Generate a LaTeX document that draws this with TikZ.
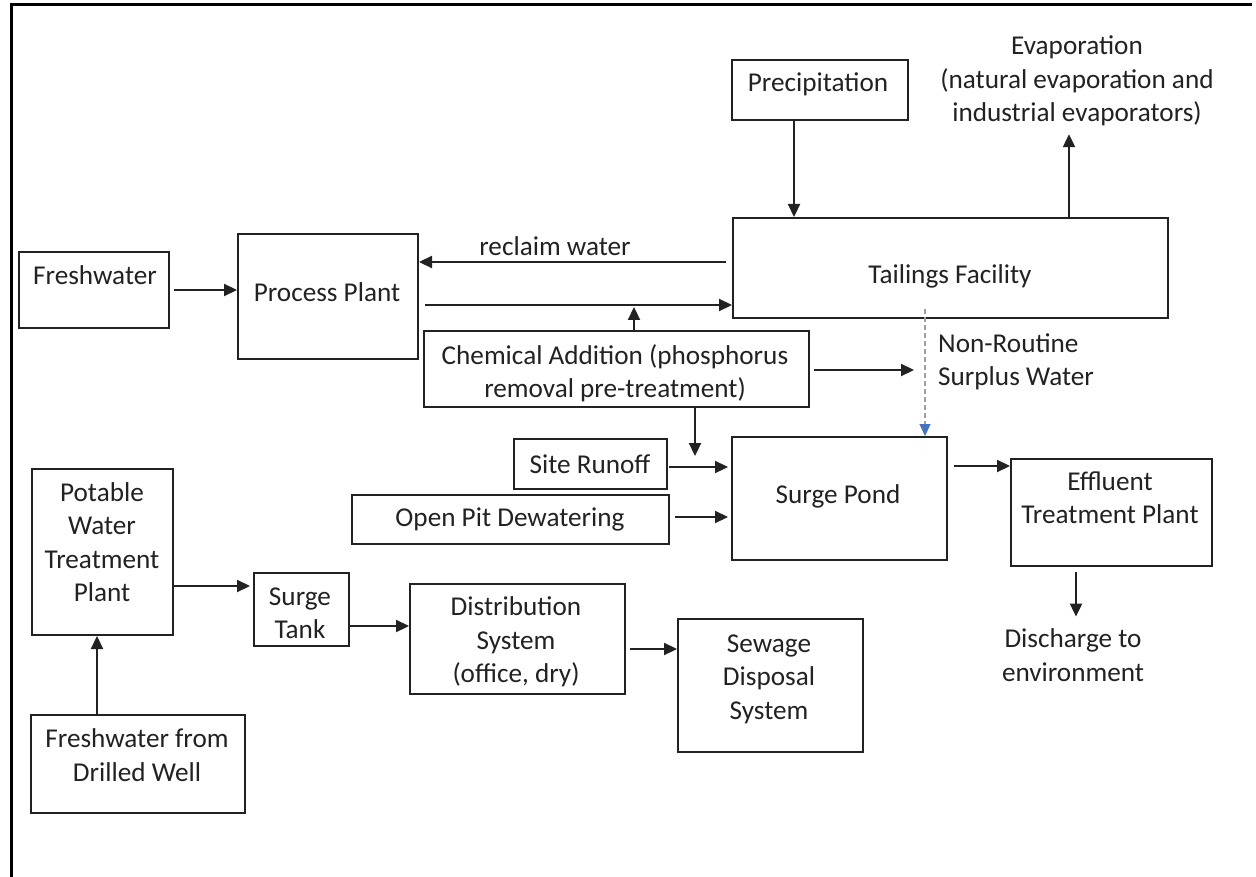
\documentclass[tikz,border=0pt]{standalone}
\usepackage{fontspec}
\setmainfont{Carlito}
\usetikzlibrary{arrows.meta}
\definecolor{ink}{HTML}{222222}
\definecolor{tipblue}{HTML}{4472C4}
\begin{document}
\begin{tikzpicture}[x=1pt,y=-1pt,
  box/.style={draw=ink, line width=2pt, inner sep=0pt, anchor=north west},
  txt/.style={text=ink, font=\fontsize{27.2}{33.4}\selectfont, align=center, inner sep=0pt},
  arr/.style={draw=ink, line width=2.2pt, -{Triangle[length=13pt,width=12pt]}},
  dasharr/.style={draw=gray!75, line width=1.1pt, dash pattern=on 5pt off 3pt, -{Triangle[length=12pt,width=11pt,color=tipblue]}},
]
\useasboundingbox (0,0) rectangle (1256,877);
\fill[white] (0,0) rectangle (1256,877);
% frame
\draw[line width=3pt, black] (11,877) -- (11,5) -- (1252,5);

% boxes
\node[box, minimum width=150pt, minimum height=76pt]  (fw)     at (18,251)  {};
\node[box, minimum width=180pt, minimum height=125pt] (pp)     at (237,233) {};
\node[box, minimum width=176pt, minimum height=60pt]  (precip) at (731,59)  {};
\node[box, minimum width=435pt, minimum height=100pt] (tail)   at (732,217) {};
\node[box, minimum width=385pt, minimum height=76pt]  (chem)   at (423,330) {};
\node[box, minimum width=153pt, minimum height=50pt]  (site)   at (513,438) {};
\node[box, minimum width=317pt, minimum height=49pt]  (open)   at (351,494) {};
\node[box, minimum width=215pt, minimum height=123pt] (pond)   at (731,436) {};
\node[box, minimum width=201pt, minimum height=107pt] (eff)    at (1010,458) {};
\node[box, minimum width=141pt, minimum height=166pt] (pot)    at (31,468)  {};
\node[box, minimum width=95pt,  minimum height=73pt]  (tank)   at (253,572) {};
\node[box, minimum width=215pt, minimum height=110pt] (dist)   at (409,583) {};
\node[box, minimum width=185pt, minimum height=133pt] (sew)    at (677,618) {};
\node[box, minimum width=214pt, minimum height=98pt]  (well)   at (30,714)  {};

% texts
\node[txt] (fwt)     at (95,275)   {Freshwater};
\node[txt] (ppt)     at (327,292)  {Process Plant};
\node[txt] (precipt) at (818,84)   {Precipitation};
\node[txt] (evap)    at (1077,81)  {Evaporation\\(natural evaporation and\\industrial evaporators)};
\node[txt] (tailt)   at (950,276)  {Tailings Facility};
\node[txt] (reclaim) at (555,246)  {reclaim water};
\node[txt] (chemt)   at (615,373)  {Chemical Addition (phosphorus\\removal pre-treatment)};
\node[txt, anchor=west, align=left] (nr) at (938,362) {Non-Routine\\Surplus Water};
\node[txt] (sitet)   at (590,464)  {Site Runoff};
\node[txt] (opent)   at (510,519)  {Open Pit Dewatering};
\node[txt] (pondt)   at (838,496)  {Surge Pond};
\node[txt] (efft)    at (1110,498) {Effluent\\Treatment Plant};
\node[txt] (dis)     at (1073,655) {Discharge to\\environment};
\node[txt] (pott)    at (102,542)  {Potable\\Water\\Treatment\\Plant};
\node[txt] (tankt)   at (300,613)  {Surge\\Tank};
\node[txt] (distt)   at (516,642)  {Distribution\\System\\(office, dry)};
\node[txt] (sewt)    at (769,679)  {Sewage\\Disposal\\System};
\node[txt] (wellt)   at (137,755)  {Freshwater from\\Drilled Well};

% free ends
\coordinate (join) at (634,307);
\coordinate (chemdown) at (695,456);

% connectors
\draw[arr, shorten <=4pt] (fw.east |- 0,290) -- (pp.west |- 0,290);
\draw[arr, shorten <=6pt] (tail.west |- 0,262) -- (pp.east |- 0,262);
\draw[arr, shorten <=6pt] (pp.east |- 0,305) -- (tail.west |- 0,305);
\draw[arr] (chem.north -| join) -- (join);
\draw[arr, shorten <=4pt, shorten >=24pt] (chem.east |- 0,370) -- (nr.west |- 0,370);
\draw[arr] (chem.south -| chemdown) -- (chemdown);
\draw[arr] (precip.south -| 794,0) -- (tail.north -| 794,0);
\draw[arr, shorten >=8pt] (tail.north -| 1069,0) -- (evap.south -| 1069,0);
\draw[dasharr, shorten <=-10pt] (tail.south -| 925,0) -- (pond.north -| 925,0);
\draw[arr, shorten <=1pt, shorten >=3pt] (site.east |- 0,467) -- (pond.west |- 0,467);
\draw[arr, shorten <=5pt, shorten >=3pt] (open.east |- 0,517) -- (pond.west |- 0,517);
\draw[arr, shorten <=6pt] (pond.east |- 0,466) -- (eff.west |- 0,466);
\draw[arr, shorten <=5pt, shorten >=12pt] (eff.south -| 1076,0) -- (dis.north -| 1076,0);
\draw[arr, shorten >=3pt] (pot.east |- 0,586) -- (tank.west |- 0,586);
\draw[arr] (tank.east |- 0,626) -- (dist.west |- 0,626);
\draw[arr, shorten <=4pt] (dist.east |- 0,649) -- (sew.west |- 0,649);
\draw[arr] (well.north -| 97,0) -- (pot.south -| 97,0);
\end{tikzpicture}
\end{document}
